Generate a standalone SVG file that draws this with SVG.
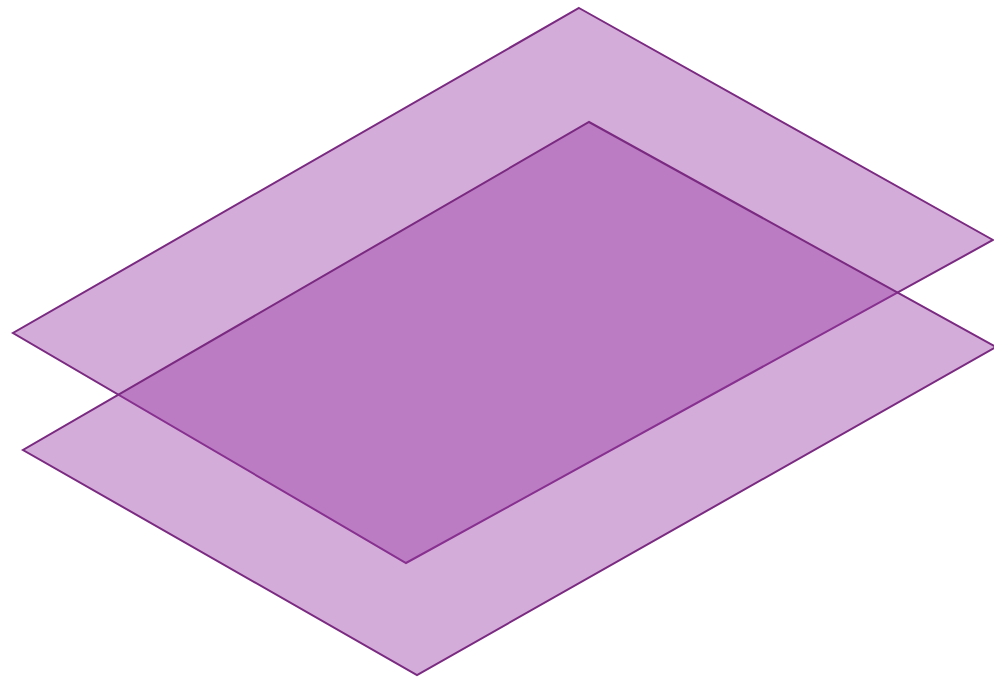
<svg xmlns="http://www.w3.org/2000/svg" width="994" height="679" viewBox="0 0 994 679">
<style>
.plane{fill:#9939a5;fill-opacity:0.42;stroke:#7a2a80;stroke-width:2;stroke-linejoin:miter}
</style>
<rect width="994" height="679" fill="#ffffff"/>
<g id="upper-plane"><polygon class="plane" points="579,8 993,240 406,563 13,333"/></g>
<g id="lower-plane"><polygon class="plane" points="589,122 996,347 417,675 23,450"/></g>
</svg>
